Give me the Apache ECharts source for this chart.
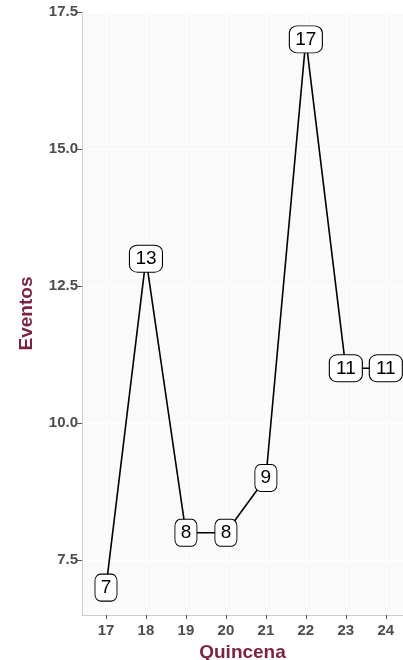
<!DOCTYPE html>
<html><head><meta charset="utf-8">
<script src="https://cdn.jsdelivr.net/npm/echarts@6/dist/echarts.min.js"></script>
<style>html,body{margin:0;padding:0;background:#fff}#c{width:403px;height:660px}</style>
</head><body><div id="c"></div>
<script>
const quincenas = [17, 18, 19, 20, 21, 22, 23, 24];
const eventos = [7, 13, 8, 8, 9, 17, 11, 11];
const yTicks = [7.5, 10.0, 12.5, 15.0, 17.5];

const pts = quincenas.map((q, i) => [q, eventos[i]]);
const chart = echarts.init(document.getElementById('c'));
const font = '"Liberation Sans", Arial, sans-serif';
chart.setOption({
  animation: false,
  grid: {left: 82, right: 0, top: 12, bottom: 45, show: true, backgroundColor: '#FAFAFA', borderWidth: 0,
         containLabel: false, outerBoundsMode: 'none'},
  xAxis: {
    type: 'value', min: 16.4, max: 24.43,
    name: 'Quincena', nameLocation: 'middle', nameGap: 27,
    nameTextStyle: {color: '#7B2442', fontSize: 19, fontWeight: 'bold', fontFamily: font},
    axisLine: {show: true, lineStyle: {color: '#CCCCCC', width: 1}},
    axisTick: {show: true, length: 4, lineStyle: {color: '#555'}, customValues: quincenas},
    axisLabel: {customValues: quincenas, color: '#4D4D4D', fontSize: 15, fontWeight: 'bold', fontFamily: font, margin: 8},
    splitLine: {show: true, lineStyle: {color: '#FFFFFF', width: 1.2}}
  },
  yAxis: {
    type: 'value', min: 6.5, max: 17.5,
    name: 'Eventos', nameLocation: 'middle', nameGap: 46,
    nameTextStyle: {color: '#7B2442', fontSize: 19, fontWeight: 'bold', fontFamily: font},
    axisLine: {show: true, lineStyle: {color: '#CCCCCC', width: 1}},
    axisTick: {show: true, length: 5, lineStyle: {color: '#555'}, customValues: yTicks},
    axisLabel: {customValues: yTicks, formatter: v => v.toFixed(1), color: '#4D4D4D', fontSize: 15, fontWeight: 'bold', fontFamily: font, margin: 4},
    splitLine: {show: true, lineStyle: {color: '#FFFFFF', width: 1.2}}
  },
  series: [
    {type: 'line', data: pts, symbol: 'none', lineStyle: {color: '#000', width: 1.6}, z: 2},
    {type: 'scatter', data: pts, z: 5,
     symbol: 'roundRect',
     symbolSize: v => [String(v[1]).length * 11 + 11, 27],
     itemStyle: {color: '#FFFFFF', borderColor: '#000', borderWidth: 1, opacity: 1},
     label: {show: true, position: 'inside', formatter: p => String(p.value[1]),
       color: '#000', fontSize: 19, fontFamily: font}}
  ]
});
</script></body></html>
